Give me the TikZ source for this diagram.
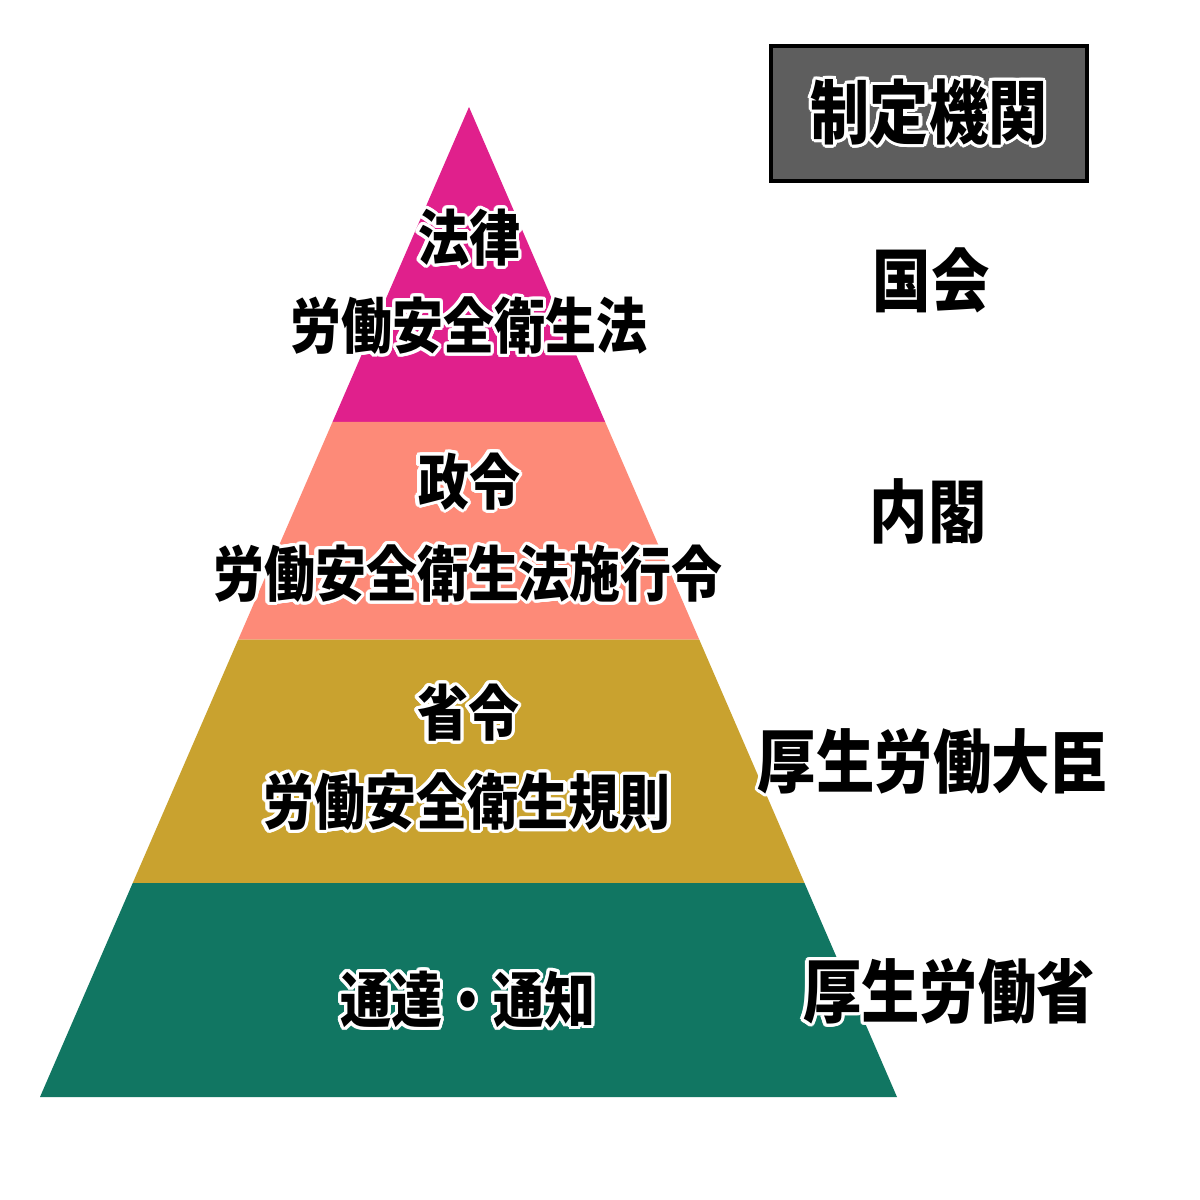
\documentclass[tikz,border=0pt]{standalone}
\usepackage{fontspec}
\newfontfamily\cjk{Noto Sans CJK JP}[BoldFont = {Noto Sans CJK JP Black}]
\usepackage{contour}
\contourlength{0.9pt}
\contournumber{24}
\usetikzlibrary{calc}
\definecolor{houritsu}{HTML}{E0208C}
\definecolor{seirei}{HTML}{FD8A78}
\definecolor{shourei}{HTML}{C9A22F}
\definecolor{tsuutatsu}{HTML}{117662}
\definecolor{boxgray}{HTML}{5E5E5E}
\newcommand{\fuchi}[1]{\contour{white}{\scalebox{1}[1.18]{#1}}}

\begin{document}
\begin{tikzpicture}[x = 0.01cm, y = -0.01cm,
    label/.style = {inner sep = 0pt, font = \cjk\bfseries\fontsize{14.5}{17}\selectfont},
    kikan/.style = {inner sep = 0pt, font = \cjk\bfseries\fontsize{16.6}{20}\selectfont},
    kikanbox/.style = {draw = black, line width = 1.1pt, fill = boxgray, minimum width = 3.16cm, minimum height = 1.35cm, inner sep = 0pt, font = \cjk\bfseries\fontsize{16.8}{20}\selectfont}]
    % background
    \path[fill = white](0,0)rectangle(1200,1200);
    % pyramid
    \coordinate(A)at(469,107);
    \coordinate(L)at(40,1097);
    \coordinate(R)at(897,1097);
    % band edges
    \coordinate(L1)at($(A)!0.318!(L)$);
    \coordinate(R1)at($(A)!0.318!(R)$);
    \coordinate(L2)at($(A)!0.538!(L)$);
    \coordinate(R2)at($(A)!0.538!(R)$);
    \coordinate(L3)at($(A)!0.784!(L)$);
    \coordinate(R3)at($(A)!0.784!(R)$);
    % bands
    \path[fill = houritsu](A)--(L1)--(R1)--cycle;
    \path[fill = seirei](L1)--(L2)--(R2)--(R1)--cycle;
    \path[fill = shourei](L2)--(L3)--(R3)--(R2)--cycle;
    \path[fill = tsuutatsu](L3)--(L)--(R)--(R3)--cycle;
    % 法令
    \node(houritsu)[label]at(469,239){\fuchi{法律}};
    \node(anzenhou)[label]at(469,327){\fuchi{労働安全衛生法}};
    \node(seirei)[label]at(469,483){\fuchi{政令}};
    \node(sekourei)[label]at(468,575){\fuchi{労働安全衛生法施行令}};
    \node(shourei)[label]at(468,714){\fuchi{省令}};
    \node(kisoku)[label]at(467,803){\fuchi{労働安全衛生規則}};
    \node(tsuutatsu)[label]at(468,1001){\fuchi{通達・通知}};
    % 制定機関
    \node(header)[kikanbox]at(929,113.5){\fuchi{制定機関}};
    \node(kokkai)[kikan]at(931,282){\fuchi{国会}};
    \node(naikaku)[kikan]at(928,513){\fuchi{内閣}};
    \node(daijin)[kikan]at(933,763){\fuchi{厚生労働大臣}};
    \node(roudoushou)[kikan]at(949,993){\fuchi{厚生労働省}};
\end{tikzpicture}
\end{document}
